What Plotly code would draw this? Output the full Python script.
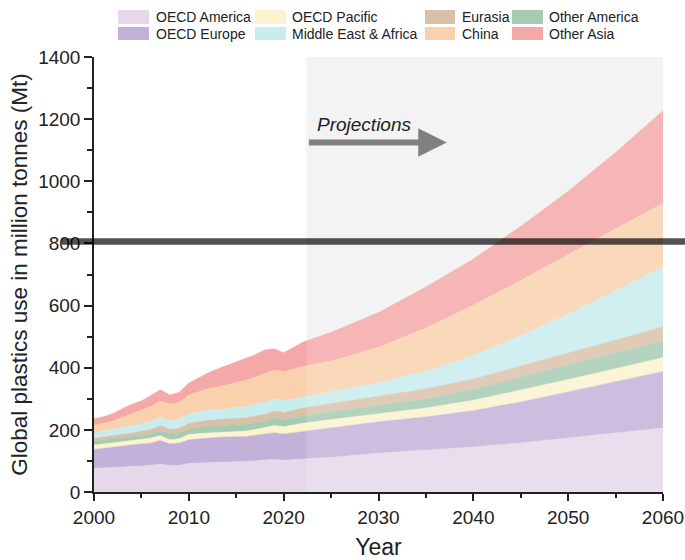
import plotly.graph_objects as go

years = list(range(2000, 2023)) + [2025, 2030, 2035, 2040, 2045, 2050, 2055, 2060]

oecd_america = [76, 77, 78, 80, 82, 84, 87, 89, 85, 86, 92, 94, 95, 96, 96, 97, 98, 100, 103, 105, 102, 104, 106,
                112, 125, 134, 145, 158, 174, 190, 206]
oecd_europe = [61, 63, 65, 68, 70, 71, 71, 77, 70, 72, 76, 77, 79, 80, 81, 81, 81, 83, 84, 86, 85, 87, 90,
               96, 101, 108, 117, 132, 148, 165, 182]
oecd_pacific = [14, 14, 15, 14, 14, 15, 16, 15, 13, 13, 17, 17, 16, 15, 15, 16, 17, 18, 20, 23, 23, 24, 25,
                25, 26, 28, 33, 38, 40, 42, 45]
other_america = [14, 14, 13, 13, 13, 13, 13, 18, 19, 19, 18, 20, 22, 22, 22, 22, 22, 22, 21, 24, 23, 24, 24,
                 26, 28, 30, 35, 41, 46, 50, 54]
eurasia = [8, 9, 10, 11, 11, 13, 14, 15, 14, 15, 18, 18, 19, 20, 21, 22, 21, 22, 22, 23, 23, 24, 25,
           26, 29, 32, 34, 36, 39, 42, 45]
middle_east_africa = [17, 18, 20, 21, 24, 24, 24, 28, 27, 29, 29, 31, 33, 33, 32, 34, 36, 37, 38, 39, 38, 36, 35,
                      36, 43, 56, 75, 98, 126, 158, 192]
china = [25, 26, 27, 33, 38, 42, 50, 51, 55, 54, 62, 65, 68, 72, 77, 80, 84, 88, 92, 92, 93, 96, 99,
         100, 114, 140, 162, 178, 192, 200, 205]
other_asia = [21, 21, 25, 28, 31, 31, 35, 36, 29, 33, 39, 45, 51, 58, 63, 66, 70, 72, 77, 69, 61, 70, 78,
              93, 112, 132, 149, 174, 203, 246, 298]

# stacking order bottom -> top
series = [
    ("OECD America", oecd_america, "#e6d8ea"),
    ("OECD Europe", oecd_europe, "#c4b1da"),
    ("OECD Pacific", oecd_pacific, "#fdf3cf"),
    ("Other America", other_america, "#a5cbb2"),
    ("Eurasia", eurasia, "#d9c1a8"),
    ("Middle East & Africa", middle_east_africa, "#c9ecee"),
    ("China", china, "#f9d2ad"),
    ("Other Asia", other_asia, "#f4a8a7"),
]
colors = {n: c for n, _, c in series}

# legend layout (columns, row-major as in the reference)
legend_cols = [["OECD America", "OECD Europe"],
               ["OECD Pacific", "Middle East & Africa"],
               ["Eurasia", "China"],
               ["Other America", "Other Asia"]]

fig = go.Figure()
for name, vals, col in series:
    fig.add_trace(go.Scatter(
        x=years, y=vals, name=name, stackgroup="one", mode="lines",
        line=dict(width=0.5, color=col), fillcolor=col, showlegend=False))

FONT = "Liberation Sans, Arial, sans-serif"

L, R, T, B = 94, 22, 57, 68
W, H = 685, 560
pw, ph = W - L - R, H - T - B


def px(x):
    return (x - L) / pw


def py(y):
    return (H - B - y) / ph


shapes = []
annotations = []

# projection shading (background + faint veil over the areas)
shapes.append(dict(type="rect", xref="x", yref="y", x0=2022.4, x1=2060, y0=0, y1=1400,
                   fillcolor="#f2f2f2", line=dict(width=0), layer="below"))
shapes.append(dict(type="rect", xref="x", yref="y", x0=2022.4, x1=2060, y0=0, y1=1400,
                   fillcolor="rgba(250,250,250,0.18)", line=dict(width=0), layer="above"))

# manual legend
col_sw = [(118, 149), (255, 286), (425, 455), (512, 543)]
col_tx = [154, 290, 460, 547]
row_sw = [(10, 24), (27, 40)]
row_tx = [17, 33.5]
for ci, names in enumerate(legend_cols):
    for ri, nm in enumerate(names):
        shapes.append(dict(type="rect", xref="paper", yref="paper",
                           x0=px(col_sw[ci][0]), x1=px(col_sw[ci][1]),
                           y0=py(row_sw[ri][1]), y1=py(row_sw[ri][0]),
                           fillcolor=colors[nm], line=dict(width=0)))
        annotations.append(dict(xref="paper", yref="paper", x=px(col_tx[ci]), y=py(row_tx[ri]),
                                text=nm, showarrow=False, xanchor="left", yanchor="middle",
                                font=dict(family=FONT, size=14, color="#222")))

# projections arrow and label
annotations.append(dict(x=2037.2, y=1125, ax=2022.5, ay=1125, xref="x", yref="y", axref="x", ayref="y",
                        text="", showarrow=True, arrowhead=2, arrowsize=0.95, arrowwidth=6,
                        arrowcolor="#808080"))
annotations.append(dict(x=2028.5, y=1183, xref="x", yref="y", text="<i>Projections</i>", showarrow=False,
                        font=dict(family=FONT, size=19, color="#222"), xanchor="center", yanchor="middle"))

# dark horizontal band across the chart (as in reference image)
shapes.append(dict(type="rect", xref="paper", yref="y", x0=px(62), x1=px(685), y0=796, y1=817,
                   fillcolor="rgba(0,0,0,0.68)", line=dict(width=0), layer="above"))

fig.update_layout(
    width=W, height=H,
    margin=dict(l=L, r=R, t=T, b=B, autoexpand=False),
    paper_bgcolor="white", plot_bgcolor="white",
    font=dict(family=FONT, color="#222"),
    shapes=shapes, annotations=annotations,
    showlegend=False,
)
fig.update_xaxes(
    range=[2000, 2060], tickvals=[2000, 2010, 2020, 2030, 2040, 2050, 2060],
    ticks="outside", ticklen=7, tickwidth=1.5, tickcolor="#222", automargin=False,
    minor=dict(tickvals=[2005, 2015, 2025, 2035, 2045, 2055], ticks="outside", ticklen=4, tickwidth=1.5,
               tickcolor="#222"),
    showline=True, linecolor="#222", linewidth=1.5, showgrid=False, zeroline=False,
    tickfont=dict(size=19, family=FONT, color="#222"),
    title=dict(text="Year", font=dict(size=23, family=FONT, color="#222"), standoff=13),
)
fig.update_yaxes(
    range=[0, 1400], tickvals=[0, 200, 400, 600, 800, 1000, 1200, 1400],
    ticks="outside", ticklen=8, tickwidth=1.5, tickcolor="#222", automargin=False,
    minor=dict(tickvals=[100, 300, 500, 700, 900, 1100, 1300], ticks="outside", ticklen=5, tickwidth=1.5,
               tickcolor="#222"),
    showline=True, linecolor="#222", linewidth=1.5, showgrid=False, zeroline=False,
    tickfont=dict(size=19, family=FONT, color="#222"),
    title=dict(text="Global plastics use in million tonnes (Mt)", font=dict(size=22.5, family=FONT, color="#222"),
               standoff=4),
)

fig.write_html("out.html", config={"displayModeBar": False},
               post_script="document.body.style.margin='0';document.body.style.overflow='hidden';")
